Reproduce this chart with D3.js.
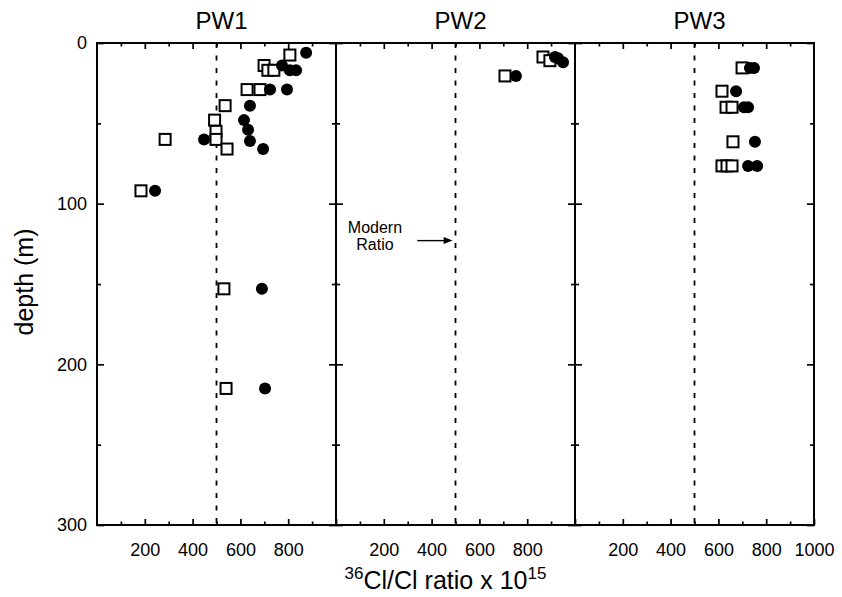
<!DOCTYPE html>
<html>
<head>
<meta charset="utf-8">
<script src="https://cdn.jsdelivr.net/npm/d3@7"></script>
<style>
  body { margin: 0; background: #fff; }
  text { font-family: "Liberation Sans", Arial, Helvetica, sans-serif; fill: #000; }
</style>
</head>
<body>
<div id="chart"></div>
<script>
// canvas
const svgWidth = 842, svgHeight = 597;
const margin = {left: 97, top: 43};
const panelW = 239, panelH = 482;

// data: [ratio, depth] pairs
const panelNames = ["PW1", "PW2", "PW3"];
const pw1Squares = [[807,7.5],[699,14],[715,17],[740,17],[628,29],[682,29],[536,39],[492,48],[498,55],[285,60],[498,60],[544,66],[184,92],[531,153],[540,215]];
const pw1Circles = [[875,6],[774,14],[807,17],[833,17],[724,29],[795,29],[640,39],[615,48],[632,54],[448,60],[640,61],[695,66],[243,92],[690,153],[703,215]];
const pw2Squares = [[866,8.7],[895,11],[707,20.5]];
const pw2Circles = [[916,8.7],[929,9.5],[950,12],[753,20.5]];
const pw3Squares = [[699,15.5],[615,30],[632,40],[657,40],[661,61.5],[615,76.5],[636,76.5],[657,76.5]];
const pw3Circles = [[732,15.5],[749,15.5],[674,30],[707,40],[724,40],[753,61.5],[724,76.5],[762,76.5]];
const squaresByPanel = [pw1Squares, pw2Squares, pw3Squares];
const circlesByPanel = [pw1Circles, pw2Circles, pw3Circles];

// ticks
const xMajor = [200, 400, 600, 800];
const xMinor = [100, 300, 500, 700, 900];
const xLabelsByPanel = [[200,400,600,800],[200,400,600,800],[200,400,600,800,1000]];
const yMajor = [0, 100, 200, 300];
const yMinor = [50, 150, 250];
const modernRatio = 500;

var svg = d3.select("#chart")
    .append("svg")
    .attr("width", svgWidth)
    .attr("height", svgHeight);

var xScale = d3.scaleLinear().domain([0, 1000]).range([0, panelW]);
var yScale = d3.scaleLinear().domain([0, 300]).range([0, panelH]);

function styleAxis(g){
    g.select(".domain").remove();
    g.selectAll("line").attr("stroke", "#000").attr("stroke-width", 1.7);
    g.selectAll("text").attr("font-size", "18px")
        .style("font-family", "'Liberation Sans', Arial, sans-serif");
}

panelNames.forEach(function(name, i){
    var g = svg.append("g")
        .attr("transform", "translate(" + (margin.left + i*panelW) + "," + margin.top + ")");

    // title
    g.append("text")
        .attr("x", panelW/2 + 5)
        .attr("y", -14)
        .attr("text-anchor", "middle")
        .attr("font-size", "24px")
        .text(name);

    // modern ratio dashed line
    g.append("line")
        .attr("x1", xScale(modernRatio)).attr("x2", xScale(modernRatio))
        .attr("y1", 0).attr("y2", panelH)
        .attr("stroke", "#000")
        .attr("stroke-width", 1.8)
        .attr("stroke-dasharray", "5,7.5");

    // bottom axis (major with labels, minor without)
    var labels = xLabelsByPanel[i];
    g.append("g")
        .attr("transform", "translate(0," + panelH + ")")
        .call(d3.axisBottom(xScale).tickValues(xMajor.concat([1000])).tickSize(-6).tickPadding(18)
            .tickFormat(function(d){ return labels.indexOf(d) >= 0 ? d : ""; }))
        .call(styleAxis);
    g.append("g")
        .attr("transform", "translate(0," + panelH + ")")
        .call(d3.axisBottom(xScale).tickValues(xMinor).tickSize(-3.5).tickFormat(""))
        .call(styleAxis);
    // top axis
    g.append("g")
        .call(d3.axisTop(xScale).tickValues(xMajor).tickSize(-6).tickFormat(""))
        .call(styleAxis);
    g.append("g")
        .call(d3.axisTop(xScale).tickValues(xMinor).tickSize(-3.5).tickFormat(""))
        .call(styleAxis);

    // left axis
    var leftMajor = d3.axisLeft(yScale).tickValues(yMajor).tickSize(-7).tickPadding(10);
    if (i > 0) leftMajor.tickFormat("");
    g.append("g").call(leftMajor).call(styleAxis);
    g.append("g").call(d3.axisLeft(yScale).tickValues(yMinor).tickSize(-4).tickFormat("")).call(styleAxis);
    // right axis
    g.append("g")
        .attr("transform", "translate(" + panelW + ",0)")
        .call(d3.axisRight(yScale).tickValues(yMajor).tickSize(-7).tickFormat(""))
        .call(styleAxis);
    g.append("g")
        .attr("transform", "translate(" + panelW + ",0)")
        .call(d3.axisRight(yScale).tickValues(yMinor).tickSize(-4).tickFormat(""))
        .call(styleAxis);

    // frame
    g.append("rect")
        .attr("width", panelW).attr("height", panelH)
        .attr("fill", "none")
        .attr("stroke", "#000")
        .attr("stroke-width", 2);

    // squares first, circles on top
    g.selectAll("rect.sq")
        .data(squaresByPanel[i])
        .enter().append("rect")
        .attr("class", "sq")
        .attr("x", function(d){ return xScale(d[0]) - 5.5; })
        .attr("y", function(d){ return yScale(d[1]) - 5.5; })
        .attr("width", 11).attr("height", 11)
        .attr("fill", "#fff")
        .attr("stroke", "#000")
        .attr("stroke-width", 2);

    g.selectAll("circle")
        .data(circlesByPanel[i])
        .enter().append("circle")
        .attr("cx", function(d){ return xScale(d[0]); })
        .attr("cy", function(d){ return yScale(d[1]); })
        .attr("r", 6)
        .attr("fill", "#000");

    // annotation in PW2
    if (i == 1) {
        g.append("text")
            .attr("x", xScale(163)).attr("y", yScale(118))
            .attr("text-anchor", "middle")
            .attr("font-size", "16px")
            .text("Modern");
        g.append("text")
            .attr("x", xScale(163)).attr("y", yScale(129))
            .attr("text-anchor", "middle")
            .attr("font-size", "16px")
            .text("Ratio");
        g.append("line")
            .attr("x1", xScale(340)).attr("x2", xScale(470))
            .attr("y1", yScale(123)).attr("y2", yScale(123))
            .attr("stroke", "#000").attr("stroke-width", 1.4);
        var ax = xScale(488), ay = yScale(123);
        g.append("path")
            .attr("d", "M" + ax + "," + ay + "L" + (ax-9) + "," + (ay-3.5) + "L" + (ax-9) + "," + (ay+3.5) + "Z")
            .attr("fill", "#000");
    }
});

// axis titles
var xTitle = svg.append("text")
    .attr("x", margin.left + 1.5*panelW - 10)
    .attr("y", 589)
    .attr("text-anchor", "middle")
    .attr("font-size", "25px");
xTitle.append("tspan").attr("font-size", "17px").attr("dy", -10).text("36");
xTitle.append("tspan").attr("dy", 10).text("Cl/Cl ratio x 10");
xTitle.append("tspan").attr("font-size", "17px").attr("dy", -10).text("15");

svg.append("text")
    .attr("transform", "rotate(-90)")
    .attr("x", -282)
    .attr("y", 33)
    .attr("text-anchor", "middle")
    .attr("font-size", "25px")
    .text("depth (m)");
</script>
</body>
</html>
